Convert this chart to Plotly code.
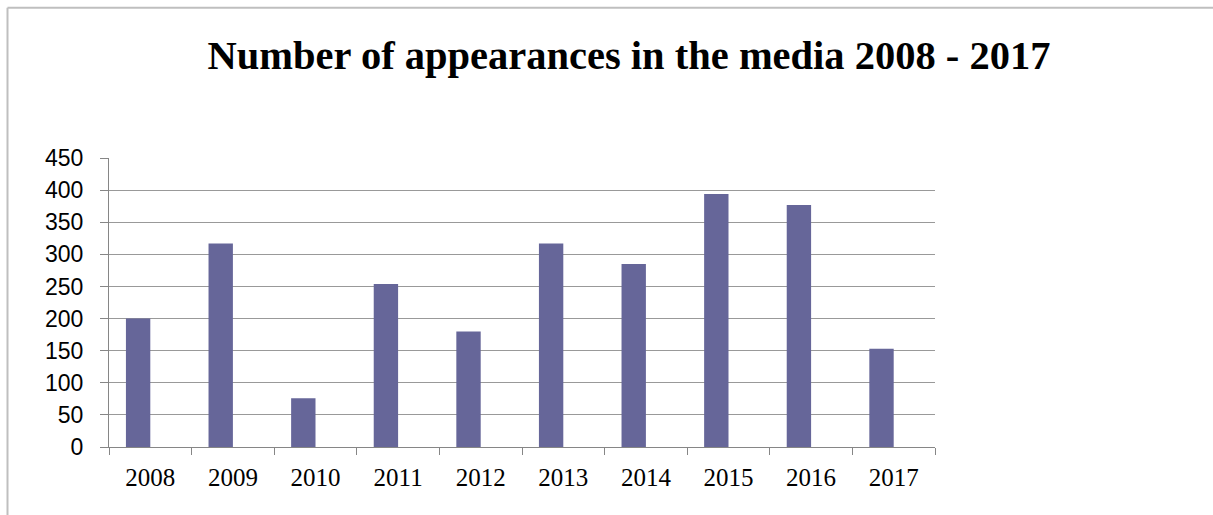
import plotly.graph_objects as go

years = ["2008", "2009", "2010", "2011", "2012", "2013", "2014", "2015", "2016", "2017"]
appearances = [200, 317, 76, 254, 180, 317, 285, 394, 377, 153]
y_ticks = [0, 50, 100, 150, 200, 250, 300, 350, 400, 450]
title_text = "Number of appearances in the media 2008 - 2017"

W, H = 1213, 515
L, R, T, B = 109, 935, 158, 447.5

fig = go.Figure()
fig.add_trace(go.Bar(
    x=years, y=appearances,
    marker=dict(color="#666699", line=dict(width=0)),
    width=0.295, offset=-0.295,
    hoverinfo="x+y",
))

def px_to_paper_x(px):
    return (px - L) / (R - L)

def px_to_paper_y(py):
    return (B - py) / (B - T)

fig.update_layout(
    width=W, height=H,
    margin=dict(l=L, r=W - R, t=T, b=H - B, pad=0),
    paper_bgcolor="white", plot_bgcolor="white",
    showlegend=False,
    title=dict(
        text=title_text,
        x=629 / W, xanchor="center", xref="container",
        y=1 - 55 / H, yanchor="middle", yref="container",
        font=dict(family="Liberation Serif", size=40.5, color="black", weight="bold"),
    ),
    xaxis=dict(
        type="category",
        showline=True, linecolor="#868686", linewidth=1,
        ticks="outside", tickson="boundaries", ticklen=7, tickcolor="#868686",
        showgrid=False,
        tickfont=dict(family="Liberation Serif", size=25, color="black"),
        ticklabelstandoff=8,
    ),
    yaxis=dict(
        range=[0, 450], tickvals=y_ticks,
        showline=True, linecolor="#868686", linewidth=1,
        ticks="outside", ticklen=8, tickcolor="#868686",
        showgrid=True, gridcolor="#999999", gridwidth=1,
        zeroline=False,
        tickfont=dict(family="Liberation Sans", size=23, color="black"),
        ticklabelstandoff=12,
    ),
    shapes=[
        dict(type="line", xref="paper", yref="paper",
             x0=px_to_paper_x(7.5), x1=px_to_paper_x(W + 5),
             y0=px_to_paper_y(7.5), y1=px_to_paper_y(7.5),
             line=dict(color="#bfbfbf", width=2)),
        dict(type="line", xref="paper", yref="paper",
             x0=px_to_paper_x(7.5), x1=px_to_paper_x(7.5),
             y0=px_to_paper_y(7.5), y1=px_to_paper_y(H + 5),
             line=dict(color="#bfbfbf", width=2)),
    ],
)

fig.write_html("out.html", config={"displayModeBar": False},
               post_script="document.body.style.margin='0';")
